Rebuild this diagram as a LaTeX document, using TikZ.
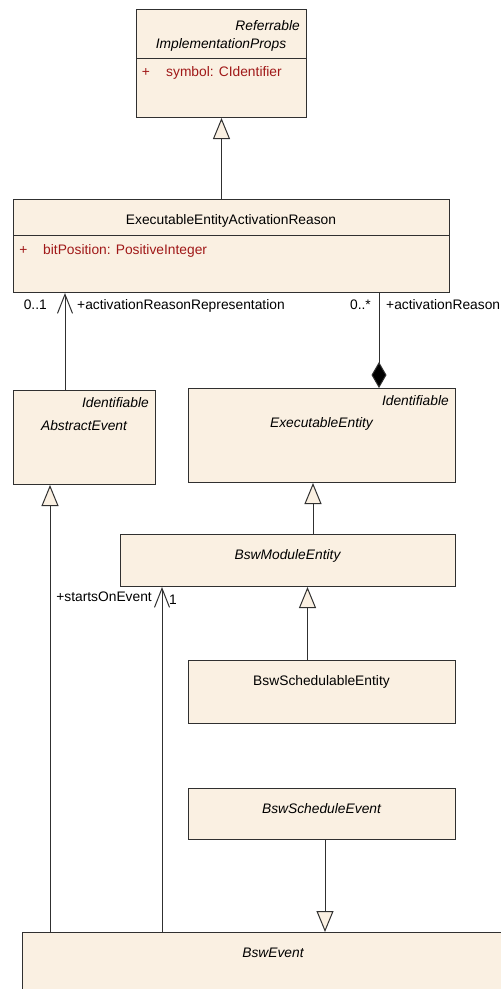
\documentclass[tikz,border=0pt]{standalone}
\usepackage{fontspec}
\setmainfont{Liberation Sans}
\usetikzlibrary{arrows.meta}
\definecolor{boxfill}{HTML}{FAF0E2}
\definecolor{attrred}{HTML}{A01818}
\definecolor{edgegray}{HTML}{303030}

\begin{document}
\begin{tikzpicture}[x=1pt,y=-1pt,
  font=\fontsize{13.8}{16}\selectfont,
  umlbox/.style={draw=edgegray, fill=boxfill, line width=1pt, inner sep=0pt, anchor=north west},
  txt/.style={inner sep=0pt, anchor=mid, yshift=-2.5pt},
  stereo/.style={inner sep=0pt, anchor=mid east, yshift=-2.5pt, font=\fontsize{13.8}{16}\selectfont\itshape},
  attr/.style={inner sep=0pt, anchor=mid west, yshift=-2.5pt, text=attrred},
  lbl/.style={inner sep=0pt, yshift=-2pt, font=\fontsize{13.8}{16}\selectfont},
  conn/.style={draw=edgegray, line width=1pt},
  gen/.style={conn, -{Triangle[length=21pt,width=17pt,fill=boxfill]}},
  assoc/.style={conn, -{Straight Barb[length=19pt,width=15pt]}},
  comp/.style={conn, -{Diamond[length=26pt,width=15pt,fill=black]}}]

\useasboundingbox (0,0) rectangle (501,989);
\clip (0,0) rectangle (501,989);

% classes
\node[umlbox, minimum width=170pt, minimum height=108pt] (impl) at (136,9) {};
\node[umlbox, minimum width=436pt, minimum height=93pt] (eear) at (13,199) {};
\node[umlbox, minimum width=142pt, minimum height=94pt] (abs) at (13,390) {};
\node[umlbox, minimum width=267pt, minimum height=94pt] (ee) at (188,388) {};
\node[umlbox, minimum width=335pt, minimum height=52pt] (bme) at (120,534) {};
\node[umlbox, minimum width=267pt, minimum height=63pt] (bse) at (188,660) {};
\node[umlbox, minimum width=267pt, minimum height=51pt] (bsev) at (188,788) {};
\node[umlbox, minimum width=502pt, minimum height=90pt] (bswev) at (22,932) {};

% compartment dividers
\draw[conn] (impl.west |- 0,58) -- (impl.east |- 0,58);
\draw[conn] (eear.west |- 0,235) -- (eear.east |- 0,235);

% class texts
\node[stereo] (implst) at (300,25) {Referrable};
\node[txt, font=\fontsize{13.8}{16}\selectfont\itshape] (implname) at (221,43) {ImplementationProps};
\node[attr, anchor=mid] (implplus) at (146,71) {+};
\node[attr] (implattr) at (166,71) {symbol: CIdentifier};

\node[txt] (eearname) at (231,219) {ExecutableEntityActivationReason};
\node[attr, anchor=mid] (eearplus) at (23.5,249) {+};
\node[attr] (eearattr) at (43,249) {bitPosition: PositiveInteger};

\node[stereo] (absst) at (149,402) {Identifiable};
\node[txt, font=\fontsize{13.8}{16}\selectfont\itshape] (absname) at (84,425) {AbstractEvent};

\node[stereo] (eest) at (449,400) {Identifiable};
\node[txt, font=\fontsize{13.8}{16}\selectfont\itshape] (eename) at (321.5,422) {ExecutableEntity};

\node[txt, font=\fontsize{13.8}{16}\selectfont\itshape] (bmename) at (287.5,554) {BswModuleEntity};
\node[txt] (bsename) at (321.5,680) {BswSchedulableEntity};
\node[txt, font=\fontsize{13.8}{16}\selectfont\itshape] (bsevname) at (321.5,808) {BswScheduleEvent};
\node[txt, font=\fontsize{13.8}{16}\selectfont\itshape] (bswevname) at (273,952) {BswEvent};

% connector x positions
\coordinate (xImpl) at (221.5,0);
\coordinate (xRepr) at (65,0);
\coordinate (xReason) at (379,0);
\coordinate (xAbs) at (50,0);
\coordinate (xStarts) at (162,0);
\coordinate (xEe) at (313,0);
\coordinate (xBme) at (307.5,0);
\coordinate (xBsev) at (325,0);

% generalizations
\draw[gen] (eear.north -| xImpl) -- (impl.south -| xImpl);
\draw[gen] (bswev.north -| xAbs) -- (abs.south -| xAbs);
\draw[gen] (bme.north -| xEe) -- (ee.south -| xEe);
\draw[gen] (bse.north -| xBme) -- (bme.south -| xBme);
\draw[gen] (bsev.south -| xBsev) -- (bswev.north -| xBsev);

% associations
\draw[assoc] (abs.north -| xRepr) -- (eear.south -| xRepr);
\draw[assoc] (bswev.north -| xStarts) -- (bme.south -| xStarts);
\draw[comp] (eear.south -| xReason) -- (ee.north -| xReason);

% role names and multiplicities
\node[lbl, anchor=mid east] (m01) at (47,305) {0..1};
\node[lbl, anchor=mid west] (rRepr) at (77,305) {+activationReasonRepresentation};
\node[lbl, anchor=mid east] (m0n) at (371,305) {0..*};
\node[lbl, anchor=mid west] (rReason) at (386,305) {+activationReason};
\node[lbl, anchor=mid east] (rStarts) at (152,597) {+startsOnEvent};
\node[lbl, anchor=mid west] (m1) at (169,600) {1};
\end{tikzpicture}
\end{document}
